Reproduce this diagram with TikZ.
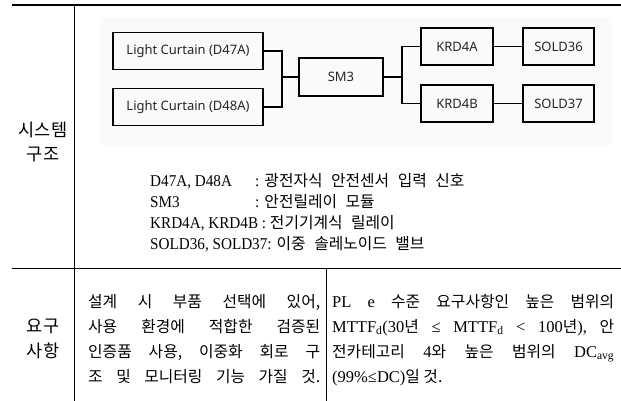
\documentclass[tikz,border=0pt]{standalone}
\usepackage{fontspec}
\setmainfont{Liberation Serif}
\newfontfamily\tnr[FakeStretch=0.92]{Liberation Serif}
\newfontfamily\kr{Noto Sans CJK KR}
\newfontfamily\diagfont{Noto Sans}
\newcommand{\K}[1]{{\kr\fontsize{15.8}{18}\selectfont #1}}
\newcommand{\ws}{\hspace{8.5pt}}
\newcommand{\jline}[2]{\makebox[#1][s]{\frenchspacing\spaceskip=4pt plus 1fil\relax #2}}
\begin{document}
\begin{tikzpicture}[x=1pt,y=-1pt]
\tikzset{
  box/.style={draw=black, line width=1.1pt, inner sep=0pt, minimum height=37pt,
    font=\diagfont\fontsize{13}{15}\selectfont, text=black!85},
  wire/.style={line width=1.1pt},
  thickrule/.style={line width=2.6pt},
  thinrule/.style={line width=1pt},
  side/.style={font=\kr\fontsize{17.5}{19}\selectfont, inner sep=0pt},
  legtxt/.style={font=\tnr\fontsize{16.5}{18}\selectfont, anchor=base west, inner sep=0pt},
  bodytxt/.style={font=\fontsize{16.5}{18}\selectfont, anchor=base west, inner sep=0pt},
}
\useasboundingbox (0,0) rectangle (621,401);
% faint background of pasted diagram
\fill[black!2] (100,17) rectangle (612,145);
% table rules
\draw[thickrule] (12,5) -- (621,5);
\draw[thinrule] (74,5) -- (74,401);
\draw[thinrule] (12,268) -- (621,268);
\draw[thinrule] (326,268) -- (326,401);
% diagram
\node[box, minimum width=150pt] (lc1) at (188,51) {Light Curtain (D47A)};
\node[box, minimum width=150pt] (lc2) at (188,107) {Light Curtain (D48A)};
\node[box, minimum width=84pt, minimum height=38pt] (sm3) at (341,77) {SM3};
\node[box, minimum width=72pt] (krda) at (457,46.5) {KRD4A};
\node[box, minimum width=72pt] (krdb) at (457,103.5) {KRD4B};
\node[box, minimum width=71pt] (solda) at (558.5,46.5) {SOLD36};
\node[box, minimum width=71pt] (soldb) at (558.5,103.5) {SOLD37};
\coordinate (jl) at (282,77);
\coordinate (jr) at (402,77);
\draw[wire] (lc1.east) -| (jl) |- (lc2.east);
\draw[wire] (jl) -- (sm3.west);
\draw[wire] (sm3.east) -- (jr);
\draw[wire] (krda.west) -| (jr) |- (krdb.west);
\draw[wire] (krda) -- (solda);
\draw[wire] (krdb) -- (soldb);
% side labels
\node[side] (s1) at (43,130) {시스템};
\node[side] (s2) at (43,154) {구조};
\node[side] (s3) at (43,326) {요구};
\node[side] (s4) at (43,351) {사항};
% legend
\node[legtxt] (l1a) at (150,186) {D47A, D48A};
\node[legtxt] (l1b) at (255,186) {: \K{광전자식\ws 안전센서\ws 입력\ws 신호}};
\node[legtxt] (l2a) at (150,207) {SM3};
\node[legtxt] (l2b) at (255,207) {: \K{안전릴레이\ws 모듈}};
\node[legtxt] (l3a) at (150,228) {KRD4A, KRD4B : \K{전기기계식\ws 릴레이}};
\node[legtxt] (l4a) at (150,249) {SOLD36, SOLD37: \K{이중\ws 솔레노이드\ws 밸브}};
% requirement texts, middle column
\node[bodytxt] (m1) at (88,307) {\jline{232pt}{\K{설계 시 부품 선택에 있어,}}};
\node[bodytxt] (m2) at (88,332) {\jline{232pt}{\K{사용 환경에 적합한 검증된}}};
\node[bodytxt] (m3) at (88,357) {\jline{232pt}{\K{인증품 사용, 이중화 회로 구}}};
\node[bodytxt] (m4) at (88,382) {\jline{232pt}{\K{조 및 모니터링 기능 가질 것.}}};
% right column
\node[bodytxt] (r1) at (332,307) {\jline{282pt}{PL e \K{수준 요구사항인 높은 범위의}}};
\node[bodytxt] (r2) at (332,332) {\jline{282pt}{MTTF\textsubscript{d}(30\K{년} ≤ MTTF\textsubscript{d} < 100\K{년}), \K{안}}};
\node[bodytxt] (r3) at (332,357) {\jline{282pt}{\K{전카테고리} 4\K{와 높은 범위의} DC\textsubscript{avg}}};
\node[bodytxt] (r4) at (332,382) {(99\%≤DC)\K{일 것.}};
\end{tikzpicture}
\end{document}
